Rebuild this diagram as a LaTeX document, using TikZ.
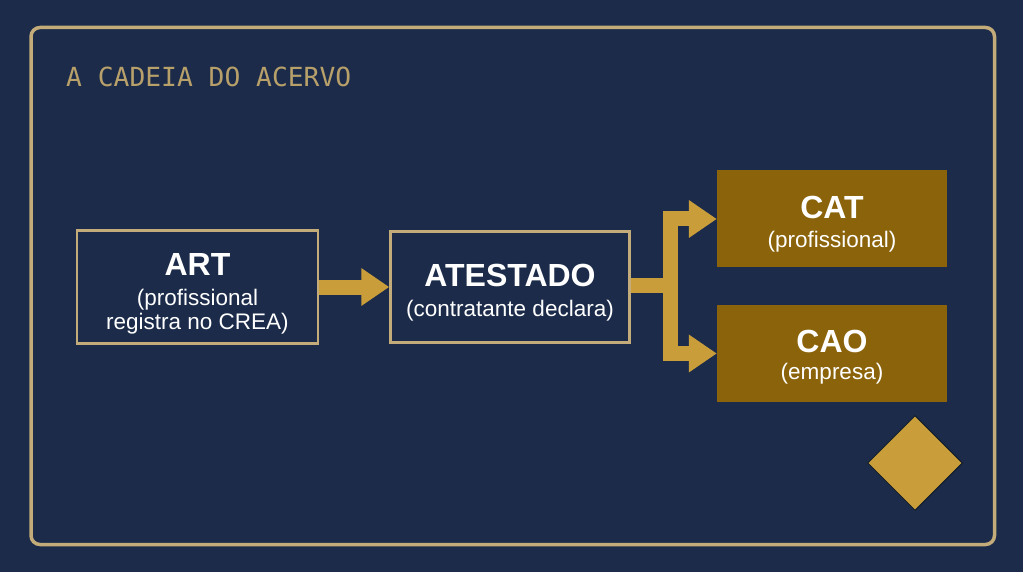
\documentclass[tikz,border=0pt]{standalone}
\usepackage{fontspec}
\setmainfont{Liberation Sans}
\setmonofont{DejaVu Sans Mono}
\usetikzlibrary{shapes.geometric, arrows.meta, positioning}

\definecolor{navy}{RGB}{27,43,73}
\definecolor{frametan}{RGB}{196,172,122}
\definecolor{gold}{RGB}{201,158,58}
\definecolor{darkgold}{RGB}{139,99,10}
\definecolor{titlegold}{RGB}{184,160,106}

\newcommand{\headfont}{\bfseries\fontsize{32}{32}\selectfont}
\newcommand{\subfont}{\fontsize{22.5}{24}\selectfont}
\newcommand{\lift}[1]{\rule{0pt}{#1}}

\begin{document}
\begin{tikzpicture}[x=1pt, y=-1pt,
        stage/.style={rectangle, draw=frametan, line width=2.5pt, fill=navy, text=white, align=center, inner sep=0pt, font=\subfont},
        result/.style={rectangle, fill=darkgold, text=white, align=center, inner sep=0pt, minimum width=230pt, minimum height=97pt, font=\subfont},
        badge/.style={diamond, fill=gold, draw=navy!60!black, line width=1pt, aspect=1, minimum width=95pt, minimum height=95pt, inner sep=0pt},
        flowline/.style={draw=gold, line width=15pt, line join=miter},
        flow/.style={flowline, -{Triangle[length=28pt,width=36pt]}}
    ]
        % Background and frame
        \fill[navy] (0,0) rectangle (1023,572);
        \useasboundingbox (0,0) rectangle (1023,572);
        \draw[frametan, line width=3.5pt, rounded corners=9pt] (31,27.5) rectangle (994.5,544.5);

        % Nodes
        \node[anchor=base west, inner sep=0pt, text=titlegold, font=\ttfamily\fontsize{26.3}{26}\selectfont] (title) at (66,87) {A CADEIA DO ACERVO};
        \node[stage, minimum width=241pt, minimum height=113pt] (art) at (197.5,287) {\lift{36pt}{\headfont ART}\\[6pt](profissional\\registra no CREA)};
        \node[stage, minimum width=239pt, minimum height=111pt, right=70pt of art] (atestado) {\lift{34pt}{\headfont ATESTADO}\\[6pt](contratante declara)};
        \node[result] (cat) at (832,219) {\lift{32pt}{\headfont CAT}\\[5pt](profissional)};
        \node[result] (cao) at (832,353.5) {\lift{29pt}{\headfont CAO}\\[3pt](empresa)};
        \node[badge] (mark) at (915,463) {};

        % Arrows
        \coordinate (fork) at (670,285);
        \draw[flow] (art.east) -- (atestado.west);
        \draw[flowline] (atestado.east |- fork) -- (fork);
        \draw[flow] (fork) |- (cat.west);
        \draw[flow] (fork) |- (cao.west);
    \end{tikzpicture}
\end{document}
